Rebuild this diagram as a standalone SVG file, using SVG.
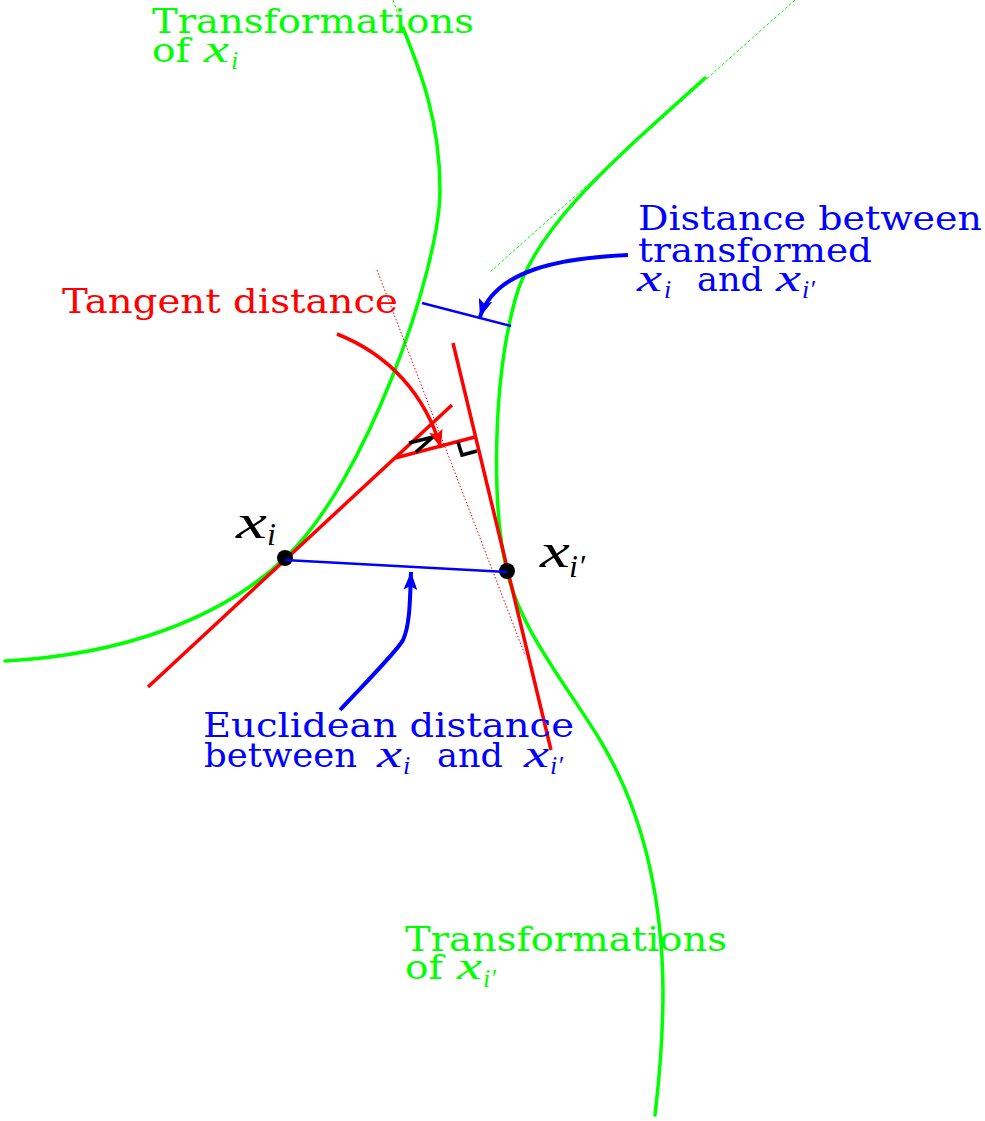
<svg xmlns="http://www.w3.org/2000/svg" width="985" height="1121" viewBox="0 0 985 1121">
<style>
.txt{font-family:"DejaVu Serif","Liberation Serif",serif;font-size:33px}
.mi{font-family:"Liberation Serif","DejaVu Serif",serif;font-style:italic}
.green{fill:#00ff00}
.blue{fill:#0000ff}
.red{fill:#ff0000}
.blk{fill:#000}
.gcurve{fill:none;stroke:#00ff00;stroke-width:3.5;stroke-linecap:round}
.gthin{fill:none;stroke:#00ff00;stroke-width:1;stroke-dasharray:3 2}
.rline{fill:none;stroke:#ff0000;stroke-width:3.5}
.rthin{fill:none;stroke:#ff0000;stroke-width:1;stroke-dasharray:1.5 2}
.bline{fill:none;stroke:#0000ff;stroke-width:2.5}
.barrow{fill:none;stroke:#0000ff;stroke-width:4}
.rarrow{fill:none;stroke:#ff0000;stroke-width:3.5}
.mark{fill:none;stroke:#000;stroke-width:3.5}
</style>
<defs>
<marker id="ab" markerUnits="userSpaceOnUse" markerWidth="20" markerHeight="14" refX="18" refY="7" orient="auto">
<path d="M0,0 L18,7 L0,14 L4,7 z" fill="#0000ff"/>
</marker>
<marker id="ar" markerUnits="userSpaceOnUse" markerWidth="20" markerHeight="14" refX="18" refY="7" orient="auto">
<path d="M0,0 L18,7 L0,14 L4,7 z" fill="#ff0000"/>
</marker>
</defs>
<rect width="985" height="1121" fill="#fff"/>

<g id="manifold-xi">
<path class="gthin" d="M393,0 L403,28"/>
<path class="gcurve" d="M5,661 C120,655 220,620 285,558 C365,484 440,270 440,190 C440,120 420,70 403,28"/>
</g>
<g id="manifold-xi2">
<path class="gthin" d="M795,0 L490,272"/>
<path class="gcurve" d="M705,78 C620,155 535,225 515,300 C492,385 492,510 507,571 C520,630 570,690 600,740 C630,790 662,870 663,990 C663,1040 658,1090 655,1115"/>
</g>

<g id="tangents">
<path class="rline" d="M148,687 L452,405"/>
<path class="rline" d="M453,343 L551,750"/>
<path class="rthin" d="M377,270 L525,655"/>
<path class="rline" d="M395,458 L475,437"/>
<polyline class="mark" points="458,442 462,455 477,451"/>
<polyline class="mark" points="409,443 433,437 416,452"/>
</g>

<g id="point-xi">
<circle cx="285" cy="558" r="8" class="blk"/>
<text class="mi blk" x="236" y="538" font-size="48" textLength="31" lengthAdjust="spacingAndGlyphs">x</text>
<text class="mi blk" x="267" y="545" font-size="32">i</text>
</g>
<g id="point-xi2">
<circle cx="507" cy="571" r="8" class="blk"/>
<text class="mi blk" x="540" y="567" font-size="48" textLength="30" lengthAdjust="spacingAndGlyphs">x</text>
<text class="mi blk" x="569" y="577" font-size="32">i′</text>
</g>

<g id="connectors">
<path class="bline" d="M285,560 L507,572"/>
<path class="bline" d="M422,303 L511,326"/>
<path class="barrow" d="M340,710 C370,678 398,650 403,640 C410,625 410,600 411,572" marker-end="url(#ab)"/>
<path class="barrow" d="M628,255 C560,258 495,270 480,317" marker-end="url(#ab)"/>
<path class="rarrow" d="M337,334 C390,355 425,395 441,448" marker-end="url(#ar)"/>
</g>

<g id="label-trans-xi">
<text class="txt green" x="152" y="33" textLength="322" lengthAdjust="spacingAndGlyphs">Transformations</text>
<text class="txt green" x="152" y="62" textLength="38" lengthAdjust="spacingAndGlyphs">of</text>
<text class="mi green" x="204" y="62" font-size="38" textLength="25" lengthAdjust="spacingAndGlyphs">x</text>
<text class="mi green" x="231" y="69" font-size="26">i</text>
</g>
<g id="label-trans-xi2">
<text class="txt green" x="405" y="951" textLength="322" lengthAdjust="spacingAndGlyphs">Transformations</text>
<text class="txt green" x="405" y="979" textLength="38" lengthAdjust="spacingAndGlyphs">of</text>
<text class="mi green" x="457" y="979" font-size="38" textLength="25" lengthAdjust="spacingAndGlyphs">x</text>
<text class="mi green" x="483" y="987" font-size="26">i′</text>
</g>
<g id="label-transformed">
<text class="txt blue" x="638" y="230" textLength="344" lengthAdjust="spacingAndGlyphs">Distance between</text>
<text class="txt blue" x="638" y="262" textLength="234" lengthAdjust="spacingAndGlyphs">transformed</text>
<text class="mi blue" x="637" y="291" font-size="38" textLength="25" lengthAdjust="spacingAndGlyphs">x</text>
<text class="mi blue" x="664" y="298" font-size="26">i</text>
<text class="txt blue" x="697" y="291" textLength="66" lengthAdjust="spacingAndGlyphs">and</text>
<text class="mi blue" x="776" y="291" font-size="38" textLength="25" lengthAdjust="spacingAndGlyphs">x</text>
<text class="mi blue" x="802" y="298" font-size="26">i′</text>
</g>
<g id="label-tangent">
<text class="txt red" x="62" y="313" textLength="336" lengthAdjust="spacingAndGlyphs">Tangent distance</text>
</g>
<g id="label-euclid">
<text class="txt blue" x="203" y="737" textLength="371" lengthAdjust="spacingAndGlyphs">Euclidean distance</text>
<text class="txt blue" x="204" y="767" textLength="153" lengthAdjust="spacingAndGlyphs">between</text>
<text class="mi blue" x="377" y="767" font-size="38" textLength="25" lengthAdjust="spacingAndGlyphs">x</text>
<text class="mi blue" x="403" y="774" font-size="26">i</text>
<text class="txt blue" x="437" y="767" textLength="66" lengthAdjust="spacingAndGlyphs">and</text>
<text class="mi blue" x="524" y="767" font-size="38" textLength="25" lengthAdjust="spacingAndGlyphs">x</text>
<text class="mi blue" x="550" y="774" font-size="26">i′</text>
</g>
</svg>
